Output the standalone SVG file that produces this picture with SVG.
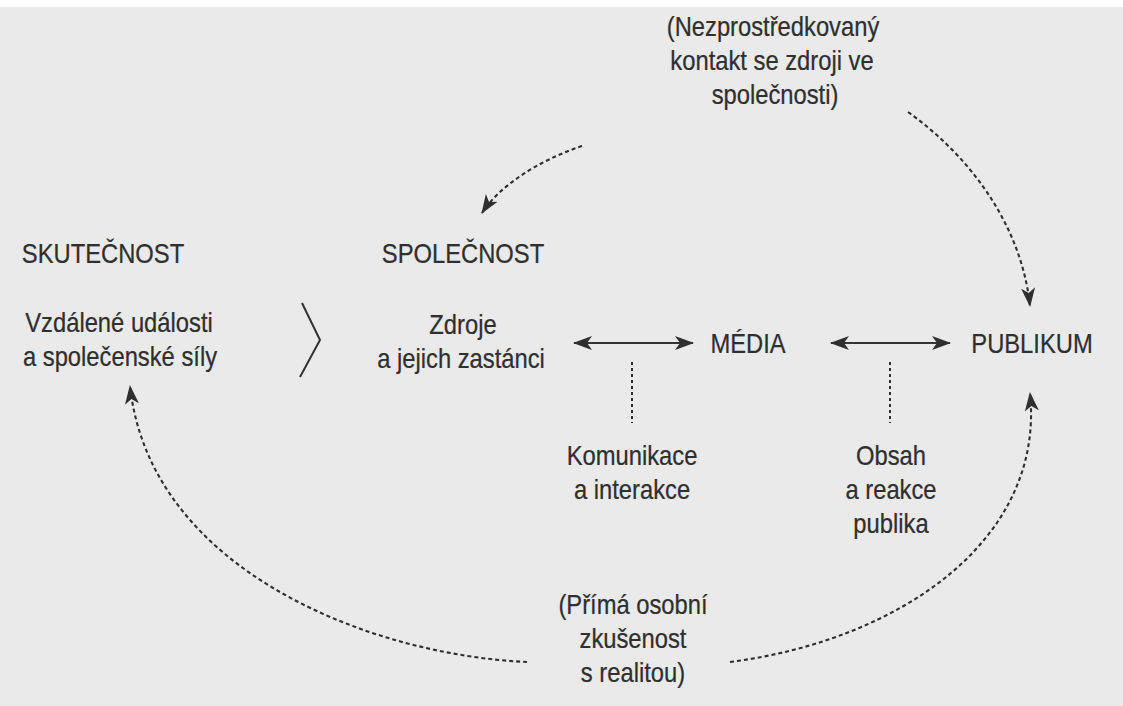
<svg xmlns="http://www.w3.org/2000/svg" width="1123" height="706" viewBox="0 0 1123 706">
  <style>
    .t { font-family: "Liberation Sans", Arial, sans-serif; font-size: 27px; fill: #2f2f2f; stroke: #2f2f2f; stroke-width: 0.25px; text-anchor: middle; }
    .solid { fill: none; stroke: #333333; stroke-width: 2; }
    .dash { fill: none; stroke: #2f2f2f; stroke-width: 2.1; stroke-dasharray: 4 3; }
    .vdash { fill: none; stroke: #2f2f2f; stroke-width: 2; stroke-dasharray: 3 3; }
  </style>
  <defs>
    <marker id="ah" markerUnits="userSpaceOnUse" markerWidth="20" markerHeight="16" viewBox="0 0 20 16" refX="18" refY="8" orient="auto-start-reverse">
      <path d="M0,1 L19,8 L0,15 L5,8 Z" fill="#2f2f2f"/>
    </marker>
  </defs>
  <rect x="0" y="0" width="1123" height="706" fill="#eaeaeb"/>
  <rect x="0" y="0" width="1123" height="7" fill="#ffffff"/>

  <g id="connectors">
    <path class="solid" d="M574,343 L693,343" marker-start="url(#ah)" marker-end="url(#ah)"/>
    <path class="solid" d="M831,343 L950,343" marker-start="url(#ah)" marker-end="url(#ah)"/>
    <path class="solid" d="M302,303 L320,340 L300,377" stroke-width="1.6"/>
    <path class="vdash" d="M632,362 L632,423"/>
    <path class="vdash" d="M890,362 L890,423"/>
    <path class="dash" d="M582,146 C540,160 500,185 482,213" marker-end="url(#ah)"/>
    <path class="dash" d="M908,112 C975,160 1022,230 1030,306" marker-end="url(#ah)"/>
    <path class="dash" d="M527,662 C370,655 150,570 130,386" marker-end="url(#ah)"/>
    <path class="dash" d="M730,662 C900,640 1045,540 1030,393" marker-end="url(#ah)"/>
  </g>

  <g id="node-nezprostredkovany">
    <text class="t" transform="translate(773,36) scale(0.88,1)">(Nezprostředkovaný</text>
    <text class="t" transform="translate(772,70) scale(0.88,1)">kontakt se zdroji ve</text>
    <text class="t" transform="translate(775,104) scale(0.88,1)">společnosti)</text>
  </g>
  <g id="node-skutecnost">
    <text class="t" transform="translate(103,263) scale(0.88,1)">SKUTEČNOST</text>
  </g>
  <g id="node-spolecnost">
    <text class="t" transform="translate(463,263) scale(0.88,1)">SPOLEČNOST</text>
  </g>
  <g id="node-vzdalene">
    <text class="t" transform="translate(119,332) scale(0.88,1)">Vzdálené události</text>
    <text class="t" transform="translate(120,366) scale(0.88,1)">a společenské síly</text>
  </g>
  <g id="node-zdroje">
    <text class="t" transform="translate(463,334) scale(0.88,1)">Zdroje</text>
    <text class="t" transform="translate(461,368) scale(0.88,1)">a jejich zastánci</text>
  </g>
  <g id="node-media">
    <text class="t" transform="translate(748,353) scale(0.88,1)">MÉDIA</text>
  </g>
  <g id="node-publikum">
    <text class="t" transform="translate(1032,353) scale(0.88,1)">PUBLIKUM</text>
  </g>
  <g id="node-komunikace">
    <text class="t" transform="translate(632,465) scale(0.88,1)">Komunikace</text>
    <text class="t" transform="translate(632,499) scale(0.88,1)">a interakce</text>
  </g>
  <g id="node-obsah">
    <text class="t" transform="translate(891,465) scale(0.88,1)">Obsah</text>
    <text class="t" transform="translate(891,499) scale(0.88,1)">a reakce</text>
    <text class="t" transform="translate(891,533) scale(0.88,1)">publika</text>
  </g>
  <g id="node-prima">
    <text class="t" transform="translate(633,614) scale(0.88,1)">(Přímá osobní</text>
    <text class="t" transform="translate(633,648) scale(0.88,1)">zkušenost</text>
    <text class="t" transform="translate(633,682) scale(0.88,1)">s realitou)</text>
  </g>
</svg>
